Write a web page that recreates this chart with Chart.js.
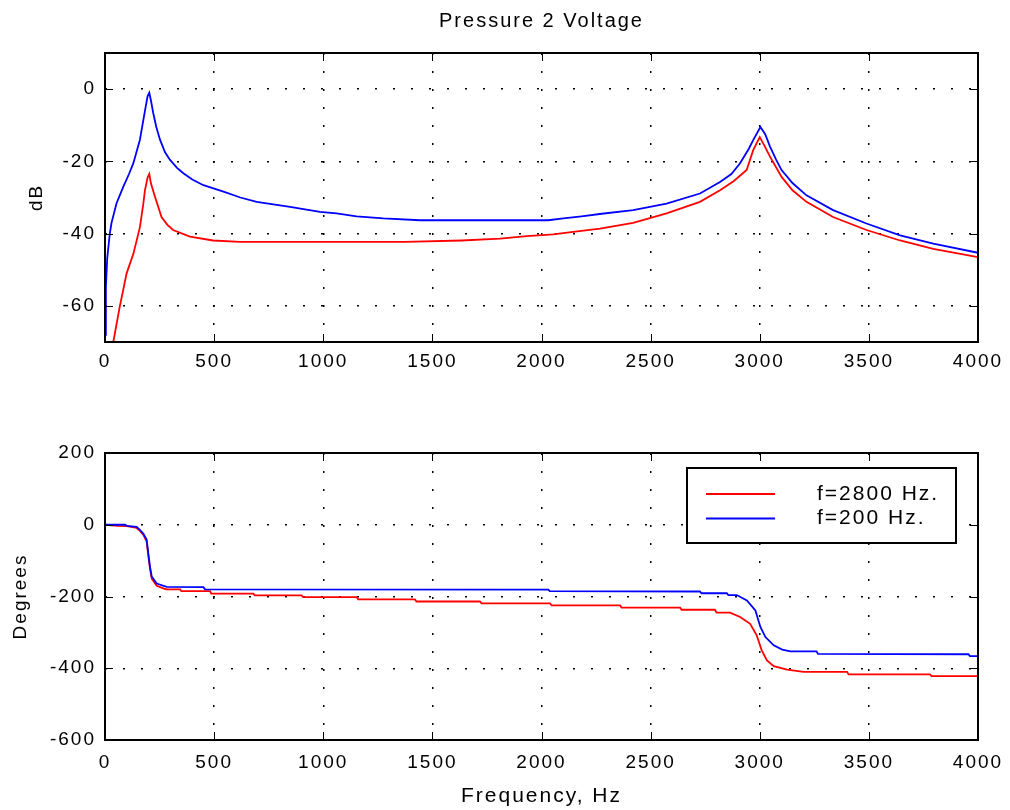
<!DOCTYPE html>
<html>
<head>
<meta charset="utf-8">
<script src="https://cdn.jsdelivr.net/npm/chart.js@4"></script>
<style>
  body { margin: 0; background: #fff; }
  .box { position: absolute; left: 0; }
</style>
</head>
<body>
<div class="box" style="top:0"><canvas id="magChart" width="1010" height="400"></canvas></div>
<div class="box" style="top:400px"><canvas id="phaseChart" width="1010" height="410"></canvas></div>
<script>
// axis ticks
const freqTicks = [0, 500, 1000, 1500, 2000, 2500, 3000, 3500, 4000];
const magTicks = [-60, -40, -20, 0];
const phaseTicks = [-600, -400, -200, 0, 200];
const seriesLabels = ['f=2800 Hz.', 'f=200 Hz.'];

// magnitude, f=2800 Hz (red)
const magFreq2800 = [30, 38, 67, 99, 130, 160, 175, 183, 195, 203, 210, 229, 259, 285, 312, 389, 495, 619, 1375, 1634, 1810, 1932, 2054, 2145, 2268, 2420, 2573, 2726, 2818, 2880, 2940, 2970, 3000, 3020, 3047, 3100, 3150, 3214, 3336, 3489, 3643, 3795, 4000];
const magDb2800 = [-73, -70, -60.4, -51, -45.6, -38.2, -32, -28, -24.5, -23.5, -26, -29.8, -35.4, -37.5, -39, -40.8, -41.9, -42.3, -42.3, -41.9, -41.4, -40.7, -40.2, -39.5, -38.6, -37, -34.4, -31.2, -28, -25.5, -22.4, -16.9, -13.3, -15.5, -18.7, -24.3, -28, -31.2, -35.4, -39, -41.9, -44.2, -46.5];

// magnitude, f=200 Hz (blue)
const magFreq200 = [0, 4, 10, 15, 22, 30, 53, 84, 110, 130, 160, 183, 195, 203, 210, 221, 235, 252, 275, 298, 330, 359, 400, 451, 543, 620, 695, 848, 985, 1061, 1153, 1275, 1443, 2031, 2100, 2184, 2276, 2420, 2573, 2726, 2818, 2870, 2909, 2950, 2970, 3003, 3025, 3047, 3075, 3100, 3150, 3214, 3336, 3489, 3643, 3795, 4000];
const magDb200 = [-68, -55, -47, -44, -40, -37, -31.6, -27, -23.5, -20.5, -14, -6, -2, -1, -3, -6.6, -10.5, -14, -17.5, -19.6, -21.8, -23.3, -25, -26.6, -28.4, -30, -31.2, -32.6, -34, -34.4, -35.2, -35.8, -36.3, -36.3, -35.8, -35.2, -34.5, -33.5, -31.7, -28.9, -25.7, -23.5, -20.6, -16.5, -14.1, -10.5, -12.5, -15.9, -19.5, -22.4, -26, -29.4, -33.5, -37.2, -40.5, -42.8, -45.3];

// phase, f=2800 Hz (red)
const phaseFreq2800 = [0, 60, 100, 145, 160, 176, 191, 198, 206, 214, 237, 270, 282, 344, 350, 481, 487, 680, 686, 901, 908, 1153, 1160, 1420, 1427, 1718, 1725, 2039, 2046, 2360, 2367, 2635, 2642, 2795, 2802, 2864, 2910, 2956, 2986, 3009, 3033, 3064, 3125, 3201, 3400, 3407, 3780, 3787, 4000];
const phaseDeg2800 = [0, -3, -4, -9, -17, -28, -47, -84, -122, -150, -170, -178, -180, -180, -185, -185, -192, -192, -197, -197, -202, -202, -208, -208, -214, -214, -219, -219, -225, -225, -231, -231, -237, -237, -245, -245, -257, -276, -308, -350, -378, -394, -404, -410, -410, -417, -417, -422, -422];

// phase, f=200 Hz (blue)
const phaseFreq200 = [0, 92, 100, 145, 160, 176, 191, 198, 206, 214, 237, 282, 451, 458, 2031, 2038, 2726, 2733, 2849, 2856, 2895, 2941, 2980, 3003, 3026, 3064, 3103, 3140, 3260, 3267, 3956, 3963, 4000];
const phaseDeg200 = [0, 0, -3, -6, -14, -25, -42, -78, -116, -144, -164, -173, -174, -180, -181, -185, -186, -191, -191, -196, -196, -211, -239, -285, -313, -336, -348, -353, -353, -360, -361, -366, -366];

const FONT = 'Liberation Sans, Arial, sans-serif';
const SPACING = '2px';
const RED = '#ff0000';
const BLUE = '#0000ff';

function pts(xs, ys) {
    return xs.map((x, i) => ({ x: x, y: ys[i] }));
}

function line(label, xs, ys, color, order) {
    return {
        label: label,
        data: pts(xs, ys),
        borderColor: color,
        borderWidth: 1.8,
        pointRadius: 0,
        tension: 0,
        fill: false,
        order: order
    };
}

// MATLAB-ish letter spacing
const spacing = {
    id: 'spacing',
    beforeInit(chart) { chart.ctx.letterSpacing = SPACING; },
    beforeLayout(chart) { chart.ctx.letterSpacing = SPACING; },
    beforeDraw(chart) { chart.ctx.letterSpacing = SPACING; }
};

// box around the axes, ticks pointing inward
const frame = {
    id: 'frame',
    afterDraw(chart) {
        const { ctx, chartArea: a, scales } = chart;
        const len = 8;
        ctx.save();
        ctx.strokeStyle = '#000';
        ctx.lineWidth = 1;
        ctx.beginPath();
        scales.x.ticks.forEach(t => {
            const px = Math.round(scales.x.getPixelForValue(t.value)) + 0.5;
            ctx.moveTo(px, a.top); ctx.lineTo(px, a.top + len);
            ctx.moveTo(px, a.bottom); ctx.lineTo(px, a.bottom - len);
        });
        scales.y.ticks.forEach(t => {
            const py = Math.round(scales.y.getPixelForValue(t.value)) + 0.5;
            ctx.moveTo(a.left, py); ctx.lineTo(a.left + len, py);
            ctx.moveTo(a.right, py); ctx.lineTo(a.right - len, py);
        });
        ctx.stroke();
        ctx.lineWidth = 2;
        ctx.strokeRect(a.left, a.top, a.right - a.left, a.bottom - a.top);
        ctx.restore();
    }
};

const legendBox = {
    id: 'legendBox',
    afterDraw(chart) {
        const { ctx, chartArea: a } = chart;
        const w = 269, h = 75;
        const x0 = a.right - 22 - w, y0 = a.top + 15;
        ctx.save();
        ctx.fillStyle = '#fff';
        ctx.fillRect(x0, y0, w, h);
        ctx.strokeStyle = '#000';
        ctx.lineWidth = 2;
        ctx.strokeRect(x0, y0, w, h);
        ctx.font = '21px ' + FONT;
        ctx.textBaseline = 'middle';
        chart.data.datasets.forEach((ds, i) => {
            const y = y0 + 26 + i * 24.5;
            ctx.strokeStyle = ds.borderColor;
            ctx.lineWidth = 1.8;
            ctx.beginPath();
            ctx.moveTo(x0 + 19, y);
            ctx.lineTo(x0 + 88, y);
            ctx.stroke();
            ctx.fillStyle = '#000';
            ctx.fillText(ds.label, x0 + 130, y);
        });
        ctx.restore();
    }
};

function scaleX(height, labelPad, title) {
    return {
        type: 'linear',
        min: 0,
        max: 4000,
        afterBuildTicks: s => { s.ticks = freqTicks.map(v => ({ value: v })); },
        afterFit: s => { s.height = height; s.paddingLeft = 0; s.paddingRight = 0; },
        ticks: {
            color: '#000', font: { family: FONT, size: 19 }, padding: labelPad,
            maxRotation: 0, autoSkip: false, callback: v => String(v)
        },
        grid: { color: '#000', lineWidth: 1.5, drawTicks: false },
        border: { display: false, dash: [2, 16] },
        title: title
    };
}

function scaleY(min, max, tickList, title) {
    return {
        type: 'linear',
        min: min,
        max: max,
        afterBuildTicks: s => { s.ticks = tickList.map(v => ({ value: v })); },
        afterFit: s => { s.width = 105; s.paddingTop = 0; s.paddingBottom = 0; },
        ticks: { color: '#000', font: { family: FONT, size: 19 }, padding: 9, callback: v => String(v) },
        grid: { color: '#000', lineWidth: 1.5, drawTicks: false },
        border: { display: false, dash: [2, 16] },
        title: title
    };
}

Chart.defaults.animation = false;

new Chart(document.getElementById('magChart'), {
    type: 'line',
    data: {
        datasets: [
            line(seriesLabels[0], magFreq2800, magDb2800, RED, 1),
            line(seriesLabels[1], magFreq200, magDb200, BLUE, 0)
        ]
    },
    options: {
        responsive: false,
        layout: { padding: { left: 0, right: 32, top: 0, bottom: 0 } },
        plugins: {
            legend: { display: false },
            tooltip: { enabled: false },
            title: {
                display: true,
                text: 'Pressure 2 Voltage',
                fullSize: false,
                color: '#000',
                font: { family: FONT, size: 20, weight: 'normal' },
                padding: { top: 9, bottom: 20 }
            }
        },
        scales: {
            x: scaleX(58, 8, { display: false }),
            y: scaleY(-70, 10, magTicks, {
                display: true, text: 'dB', color: '#000',
                font: { family: FONT, size: 19 }, padding: { top: 25, bottom: 0 }
            })
        }
    },
    plugins: [spacing, frame]
});

new Chart(document.getElementById('phaseChart'), {
    type: 'line',
    data: {
        datasets: [
            line(seriesLabels[0], phaseFreq2800, phaseDeg2800, RED, 1),
            line(seriesLabels[1], phaseFreq200, phaseDeg200, BLUE, 0)
        ]
    },
    options: {
        responsive: false,
        layout: { padding: { left: 0, right: 32, top: 53, bottom: 0 } },
        plugins: {
            legend: { display: false },
            tooltip: { enabled: false }
        },
        scales: {
            x: scaleX(70, 11, {
                display: true, text: 'Frequency, Hz', color: '#000',
                font: { family: FONT, size: 21 }, padding: { top: 0, bottom: 1 }
            }),
            y: scaleY(-600, 200, phaseTicks, {
                display: true, text: 'Degrees', color: '#000',
                font: { family: FONT, size: 19 }, padding: { top: 9, bottom: 0 }
            })
        }
    },
    plugins: [spacing, frame, legendBox]
});
</script>
</body>
</html>
